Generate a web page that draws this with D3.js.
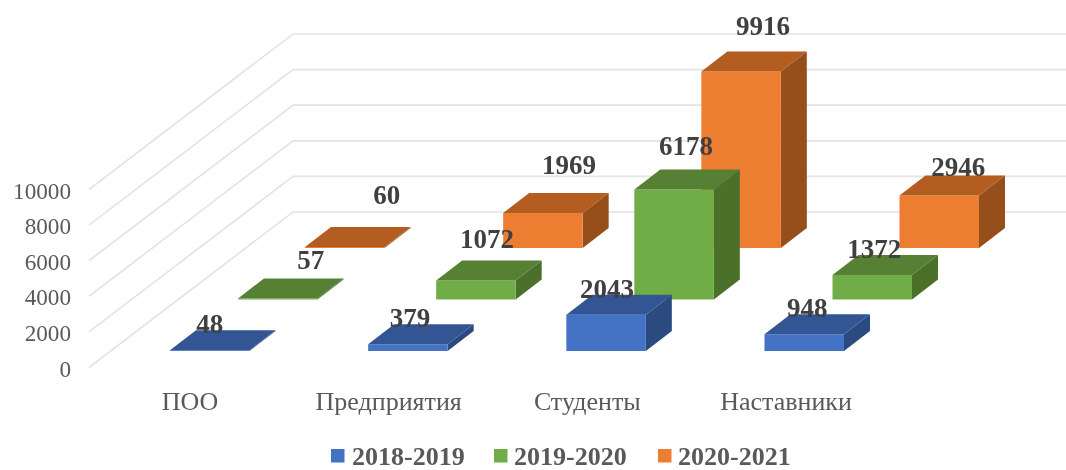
<!DOCTYPE html>
<html><head><meta charset="utf-8">
<style>
html,body{margin:0;padding:0;background:#fff;overflow:hidden}
svg{display:block;filter:blur(0.45px)}
text{font-family:"Liberation Serif","Times New Roman",serif}
</style>
<script src="https://cdn.jsdelivr.net/npm/d3@7"></script>
</head><body><svg id="chart" width="1066" height="470"></svg>
<script>
const categories = ["ПОО","Предприятия","Студенты","Наставники"];
const seriesNames = ["2018-2019","2019-2020","2020-2021"];
const values2018 = [48,379,2043,948];
const values2019 = [57,1072,6178,1372];
const values2020 = [60,1969,9916,2946];
const tickValues = [0,2000,4000,6000,8000,10000];

// layout (not data)
const seriesData = [values2018,values2019,values2020];
const W=1066,H=470;
const colors=[
 {front:"#4472C4",top:"#335593",side:"#2A4A80"},
 {front:"#70AD47",top:"#568033",side:"#4A7029"},
 {front:"#ED7D31",top:"#B35D21",side:"#964F1B"}];
const y=d3.scaleLinear().domain([0,10000]).range([367.5,189.5]);
const baseDrop=y(0)-351;
const xCat=d3.scalePoint().domain(categories).range([0,594.5]);
const xSeries=d3.scaleOrdinal().domain(seriesNames).range([170,238,305]);
const floorLift=d3.scaleOrdinal().domain(seriesNames).range([0,51.5,103]);
const barW=79.5, depthX=26, depthY=20;
const backX=204, backY=155.5, gridLeft=89;
// hand placed data label offsets in the reference: [dx from bar centre, dy from top of front face]
const labelNudge=[
 [[0,-17],[2,-17],[1,-17],[3,-17]],
 [[33,-29],[11,-32],[12,-35],[2,-17]],
 [[42,-43],[26,-39],[22,-36],[19,-19.5]]];

const svg=d3.select("#chart");

// gridlines
const grid=svg.append("g");
grid.selectAll("path").data(tickValues).join("path")
 .attr("fill","none").attr("stroke","#E4E4E4").attr("stroke-width",1.7)
 .attr("d",d=>{const p=d3.path();p.moveTo(gridLeft,y(d));p.lineTo(gridLeft+backX,y(d)-backY);p.lineTo(W+2,y(d)-backY);return p.toString();});

// y axis labels
const axis=d3.axisLeft(y).tickValues(tickValues).tickSize(0).tickPadding(0).tickFormat(d3.format("d"));
const ax=svg.append("g").attr("transform","translate(71,0)").call(axis);
ax.select(".domain").remove();
ax.selectAll("text").attr("font-family",'"Liberation Serif"').attr("font-size",23.2).attr("fill","#595959").attr("dy",null).attr("y",8.5);

// bars, back series first
const poly=(g,pts,fill)=>g.append("polygon").attr("points",pts.map(p=>p.join(",")).join(" ")).attr("fill",fill);
d3.range(seriesNames.length-1,-1,-1).forEach(s=>{
 const name=seriesNames[s];
 categories.forEach((c,i)=>{
  const v=seriesData[s][i];
  const x0=xSeries(name)+xCat(c), x1=x0+barW;
  const yb=y(0)-baseDrop-floorLift(name), yt=yb-(y(0)-y(v));
  const g=svg.append("g");
  poly(g,[[x1,yb],[x1+depthX,yb-depthY],[x1+depthX,yt-depthY],[x1,yt]],colors[s].side);
  poly(g,[[x0,yb],[x1,yb],[x1,yt],[x0,yt]],colors[s].front);
  poly(g,[[x0,yt],[x1,yt],[x1+depthX,yt-depthY],[x0+depthX,yt-depthY]],colors[s].top);
 });
});

// data labels
seriesNames.forEach((name,s)=>{
 categories.forEach((c,i)=>{
  const v=seriesData[s][i];
  const yt=y(0)-baseDrop-floorLift(name)-(y(0)-y(v));
  svg.append("text").attr("x",xSeries(name)+xCat(c)+barW/2+labelNudge[s][i][0]).attr("y",yt+labelNudge[s][i][1])
   .attr("text-anchor","middle").attr("font-size",27).attr("font-weight","bold").attr("fill","#404040").text(d3.format("d")(v));
 });
});

// category labels
const xLabel=d3.scalePoint().domain(categories).range([190,786]);
svg.append("g").selectAll("text").data(categories).join("text")
 .attr("x",d=>xLabel(d)).attr("y",409.5).attr("text-anchor","middle").attr("font-size",26).attr("fill","#595959").text(d=>d);

// legend
const legX=d3.scaleOrdinal().domain(seriesNames).range([331,494,658]);
const legG=svg.append("g").selectAll("g").data(seriesNames).join("g").attr("transform",d=>`translate(${legX(d)},449)`);
legG.append("rect").attr("width",13.5).attr("height",13.5).attr("fill",(d,i)=>colors[i].front);
legG.append("text").attr("x",(d,i)=>[21,20,20][i]).attr("y",15.5).attr("font-size",26).attr("font-weight","bold").attr("fill","#595959").text(d=>d);
</script></body></html>
